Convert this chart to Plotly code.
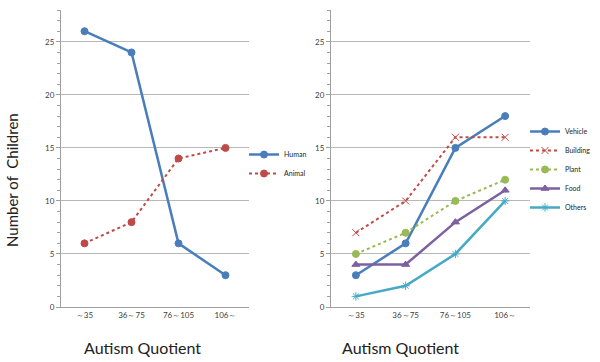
import plotly.graph_objects as go

categories = ["～35", "36～75", "76～105", "106～"]
human = [26, 24, 6, 3]
animal = [6, 8, 14, 15]
vehicle = [3, 6, 15, 18]
building = [7, 10, 16, 16]
plant = [5, 7, 10, 12]
food = [4, 4, 8, 11]
others = [1, 2, 5, 10]
y_ticks = [0, 5, 10, 15, 20, 25]

BLUE = "#4A7EBB"
RED = "#BE4B48"
GREEN = "#98B954"
PURPLE = "#7D60A0"
CYAN = "#46AAC5"

fig = go.Figure()

def add(name, y, color, dash, symbol, xa, ya, legend, msize=7, width=2.5):
    fig.add_trace(go.Scatter(
        x=categories, y=y, name=name, mode="lines+markers",
        line=dict(color=color, width=width, dash=dash),
        marker=dict(color=color, symbol=symbol, size=msize,
                    line=dict(color=color, width=1)),
        xaxis=xa, yaxis=ya, legend=legend))

add("Human", human, BLUE, "solid", "circle", "x", "y", "legend")
add("Animal", animal, RED, "dot", "circle", "x", "y", "legend", width=2)
add("Vehicle", vehicle, BLUE, "solid", "circle", "x2", "y2", "legend2")
add("Building", building, RED, "dot", "x-thin-open", "x2", "y2", "legend2", width=2)
add("Plant", plant, GREEN, "dot", "circle", "x2", "y2", "legend2", width=2)
add("Food", food, PURPLE, "solid", "triangle-up", "x2", "y2", "legend2")
add("Others", others, CYAN, "solid", "asterisk-open", "x2", "y2", "legend2")

yb, yt = 1 - 307 / 362, 1 - 10 / 362

xcommon = dict(type="category", range=[-0.5, 3.5], showline=True, linecolor="#A0A0A0",
               linewidth=1, showgrid=False, ticks="", tickfont=dict(size=8, color="#404040"),
               automargin=False)
ycommon = dict(range=[0, 28], tickvals=y_ticks, showline=True, linecolor="#A0A0A0", linewidth=1,
               showgrid=True, gridcolor="#B8B8B8", gridwidth=1, zeroline=False,
               ticks="outside", ticklen=4, tickcolor="#A0A0A0",
               minor=dict(dtick=1, ticks="outside", ticklen=3, tickcolor="#A0A0A0", showgrid=False),
               tickfont=dict(size=8, color="#404040"), automargin=False)

legcommon = dict(xanchor="left", yanchor="top", font=dict(size=7, color="#222"),
                 itemwidth=30, bgcolor="rgba(0,0,0,0)", borderwidth=0)

title_font = dict(size=16, color="#222", family="Lato")

fig.update_layout(
    width=600, height=362,
    margin=dict(l=0, r=0, t=0, b=0, autoexpand=False),
    paper_bgcolor="white", plot_bgcolor="white",
    font=dict(family="Lato"),
    xaxis=dict(domain=[61 / 600, 249 / 600], anchor="y", **xcommon),
    yaxis=dict(domain=[yb, yt], anchor="x", **ycommon),
    xaxis2=dict(domain=[331 / 600, 530 / 600], anchor="y2", **xcommon),
    yaxis2=dict(domain=[yb, yt], anchor="x2", **ycommon),
    legend=dict(x=244 / 600, y=1 - 140 / 362, **legcommon),
    legend2=dict(x=525 / 600, y=1 - 117 / 362, **legcommon),
    annotations=[
        dict(text="Number of  Children", x=12 / 600, y=1 - 180 / 362, xref="paper",
             yref="paper", textangle=-90, showarrow=False, xanchor="center", yanchor="middle",
             font=dict(size=15, color="#222", family="Lato")),
        dict(text="Autism Quotient", x=142 / 600, y=1 - 347 / 362, xref="paper", yref="paper",
             showarrow=False, xanchor="center", yanchor="middle", font=title_font),
        dict(text="Autism Quotient", x=400 / 600, y=1 - 347 / 362, xref="paper", yref="paper",
             showarrow=False, xanchor="center", yanchor="middle", font=title_font),
    ],
)

fig.write_html("out.html", post_script="document.body.style.margin='0';",
               config={"displayModeBar": False})
